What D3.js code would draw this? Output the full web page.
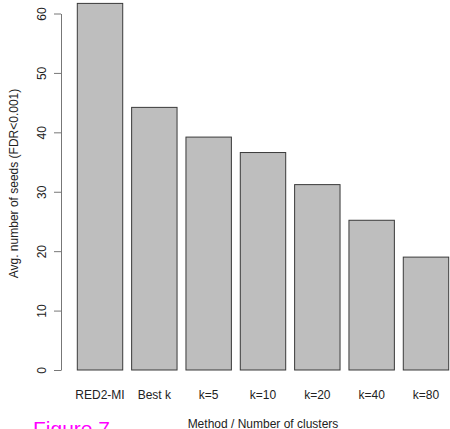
<!DOCTYPE html>
<html><head><meta charset="utf-8">
<script src="https://cdn.jsdelivr.net/npm/d3@7/dist/d3.min.js"></script>
<style>body{margin:0;background:#fff}svg{display:block}text{font-family:"Liberation Sans",Arial,sans-serif}</style>
</head><body><svg id="c" width="450" height="429"></svg>
<script>
const categories = ["RED2-MI","Best k","k=5","k=10","k=20","k=40","k=80"];
const values = [61.7, 44.2, 39.2, 36.6, 31.2, 25.2, 19.0];
const yTicks = [0,10,20,30,40,50,60];

const svg = d3.select("#c");
const y = d3.scaleLinear().domain([0,60]).range([370,13.5]);
const x = d3.scaleBand().domain(categories).range([77.3, 448.7]).paddingInner(0.164).paddingOuter(0);

svg.selectAll("rect.bar").data(values).enter().append("rect")
  .attr("class","bar")
  .attr("x",(d,i)=>x(categories[i]))
  .attr("width",x.bandwidth())
  .attr("y",d=>y(d))
  .attr("height",d=>y(0)-y(d))
  .attr("fill","#bebebe").attr("stroke","#3a3a3a").attr("stroke-width",1);

// y axis
const ya = svg.append("g").attr("transform","translate(61,0)")
  .call(d3.axisLeft(y).tickValues(yTicks).tickSize(7).tickSizeOuter(0).tickPadding(0));
ya.select(".domain").attr("stroke","#777");
ya.selectAll(".tick line").attr("stroke","#777");
ya.selectAll(".tick text").attr("transform","rotate(-90)").attr("x",0).attr("y",-15.5)
  .attr("dy","0").attr("text-anchor","middle").attr("font-size",12).attr("fill","#222")
  .attr("font-family","'Liberation Sans',Arial,sans-serif");

// x labels
const xa = svg.append("g").attr("transform","translate(0,370)")
  .call(d3.axisBottom(x).tickSize(0).tickPadding(0));
xa.select(".domain").remove();
xa.selectAll(".tick text").attr("y",28.5).attr("dy","0").attr("font-size",12).attr("fill","#222")
  .attr("font-family","'Liberation Sans',Arial,sans-serif");

svg.append("text").attr("x",263).attr("y",427.5).attr("text-anchor","middle")
  .attr("font-size",12).attr("fill","#222").text("Method / Number of clusters");
svg.append("text").attr("transform","translate(17.5,183.5) rotate(-90)").attr("text-anchor","middle")
  .attr("font-size",12).attr("fill","#222").text("Avg. number of seeds (FDR<0.001)");
svg.append("text").attr("x",33).attr("y",435.5).attr("font-size",21).attr("fill","#ff00ff").text("Figure 7");
</script></body></html>
